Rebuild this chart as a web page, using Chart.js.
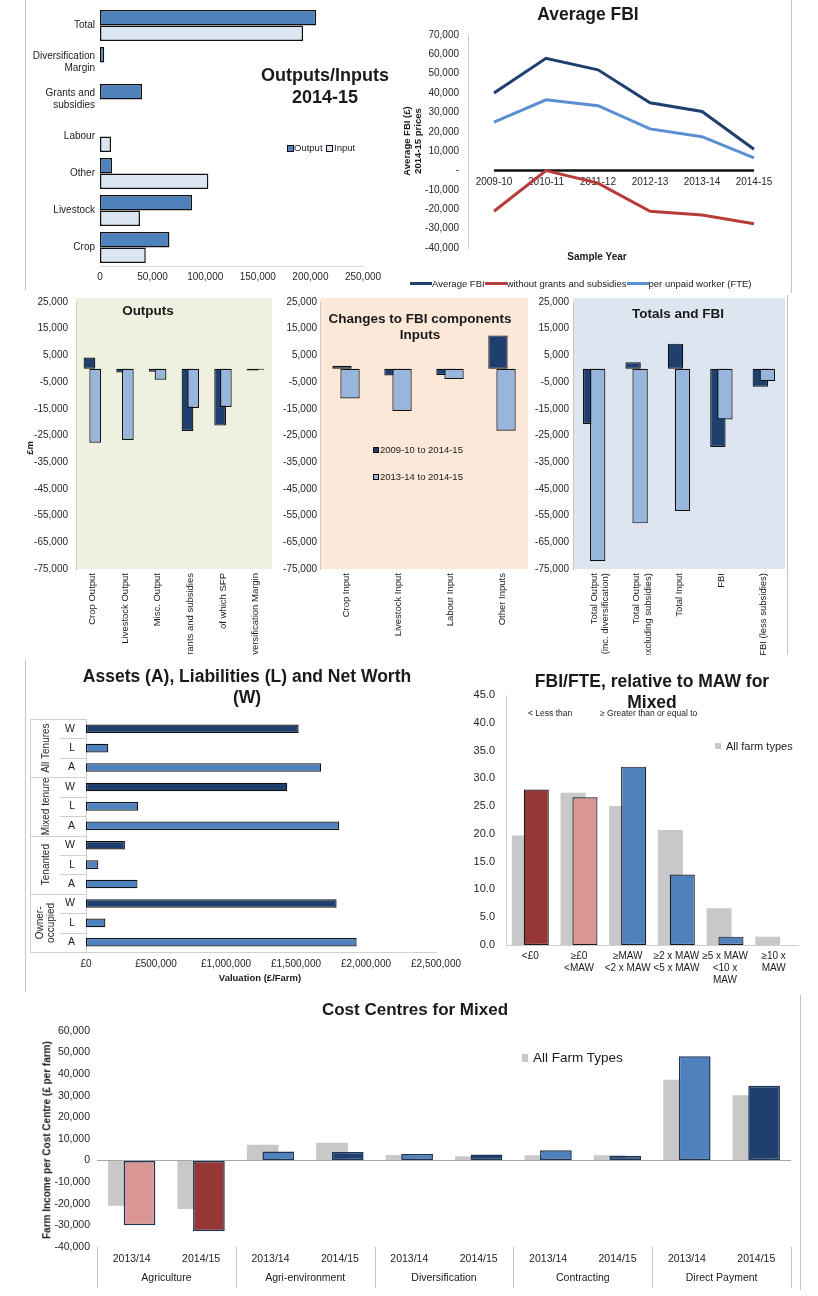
<!DOCTYPE html>
<html>
<head>
<meta charset="utf-8">
<script src="https://cdn.jsdelivr.net/npm/chart.js@4.4.1/dist/chart.umd.min.js"></script>
<style>
  html, body { margin: 0; padding: 0; background: #fff; }
  #page { position: relative; width: 818px; height: 1296px; overflow: hidden; font-family: 'Liberation Sans', Arial, sans-serif; }
  canvas { position: absolute; }
  .txt { position: absolute; white-space: nowrap; color: #1a1a1a; line-height: 1.15; text-align: center; z-index: 2; }
  .sw { position: absolute; z-index: 2; box-sizing: border-box; }
  .rule { position: absolute; background: #c4c4c4; z-index: 1; }
  .legrow { position: absolute; display: flex; align-items: center; white-space: nowrap; color: #1a1a1a; z-index: 2; }
</style>
</head>
<body>
<div id="page"></div>
<script>
// ------------------------------------------------------------
// DATA
// ------------------------------------------------------------

// Outputs/Inputs 2014-15 (£ per farm)
var ioCategories = ['Total', ['Diversification', 'Margin'], ['Grants and', 'subsidies'], 'Labour', 'Other', 'Livestock', 'Crop']
var ioSeries = ['Output', 'Input']
var ioOutput = [205500, 4000, 40000, null, 11500, 87500, 66000]
var ioInput = [193000, null, null, 10500, 103000, 38000, 43500]

// Average FBI (2014-15 prices)
var fbiYears = ['2009-10', '2010-11', '2011-12', '2012-13', '2013-14', '2014-15']
var fbiSeries = ['Average FBI', 'without grants and subsidies', 'per unpaid worker (FTE)']
var fbiAverage = [40000, 58000, 52000, 35000, 30500, 11000]
var fbiNoGrants = [-21000, 0, -6500, -21000, -23000, -27500]
var fbiPerWorker = [25000, 36500, 33500, 21500, 17500, 6500]

// Changes to FBI components (£m)
var changeSeries = ['2009-10 to 2014-15', '2013-14 to 2014-15']
var outCategories = ['Crop Output', 'Livestock Output', 'Misc. Output', 'Grants and subsidies', 'of which SFP', 'Diversification Margin']
var outLong = [4200, -1400, -1100, -23300, -21300, -700]
var outShort = [-27700, -26700, -4100, -14700, -14300, -400]
var inCategories = ['Crop Input', 'Livestock Input', 'Labour Input', 'Other Inputs']
var inLong = [1100, -2500, -2300, 12500]
var inShort = [-11100, -15800, -3800, -23200]
var totCategories = [['Total Output', '(inc. diversification)'], ['Total Output', '(excluding subsidies)'], 'Total Input', 'FBI', 'FBI (less subsidies)']
var totLong = [-20700, 2400, 9400, -29300, -6700]
var totShort = [-72100, -57900, -53300, -19000, -4700]

// Assets (A), Liabilities (L) and Net Worth (W), £ per farm
var tenureGroups = [['All Tenures'], ['Mixed tenure'], ['Tenanted'], ['Owner-', 'occupied']]
var balanceItems = ['W', 'L', 'A']
var balanceValues = [1519000, 159000, 1679000, 1437000, 373000, 1809000, 278000, 88000, 368000, 1790000, 138000, 1933000]

// FBI/FTE relative to MAW (% of farms)
var mawBands = [['<£0'], ['≥£0', '<MAW'], ['≥MAW', '<2 x MAW'], ['≥2 x MAW', '<5 x MAW'], ['≥5 x MAW', '<10 x', 'MAW'], ['≥10 x', 'MAW']]
var mawSeries = ['All farm types', 'Mixed']
var mawAllTypes = [19.7, 27.4, 25.0, 20.7, 6.6, 1.5]
var mawMixed = [28.0, 26.6, 32.1, 12.7, 1.5, 0]

// Cost centres for Mixed (£ per farm)
var costCentres = ['Agriculture', 'Agri-environment', 'Diversification', 'Contracting', 'Direct Payment']
var costYears = ['2013/14', '2014/15']
var costSeries = ['All Farm Types', 'Mixed']
var costAllTypes = [-20900, -22400, 7300, 8300, 2600, 2000, 2500, 2500, 37400, 30200]
var costMixed = [-29900, -32700, 4200, 4000, 3100, 2800, 4800, 2300, 48300, 34600]

// ------------------------------------------------------------
// STYLE
// ------------------------------------------------------------
var font = "'Liberation Sans', Arial, sans-serif"
var navy = '#1f3f6f'
var blue = '#4f81bd'
var paleBlue = '#98b6dc'
var ice = '#dce6f2'
var darkRed = '#953735'
var pink = '#d99694'
var grey = '#c8c8c8'
var edge = '#111'

Chart.defaults.font.family = font
Chart.defaults.color = '#262626'
Chart.defaults.animation = false
Chart.defaults.responsive = false
Chart.defaults.events = []
Chart.defaults.plugins.legend.display = false
Chart.defaults.plugins.tooltip.enabled = false

var page = document.getElementById('page')

function makeCanvas(left, top, w, h) {
    var c = document.createElement('canvas')
    c.width = w
    c.height = h
    c.style.left = left + 'px'
    c.style.top = top + 'px'
    c.style.width = w + 'px'
    c.style.height = h + 'px'
    page.appendChild(c)
    return c
}

// text in HTML, centred on (x, y) unless align = left
function addText(html, x, y, size, opts) {
    opts = opts || {}
    var d = document.createElement('div')
    d.className = 'txt'
    d.innerHTML = html
    d.style.left = x + 'px'
    d.style.top = y + 'px'
    d.style.fontSize = size + 'px'
    if (opts.bold) d.style.fontWeight = 'bold'
    if (opts.lh) d.style.lineHeight = opts.lh + 'px'
    var t = 'translate(' + (opts.align == 'left' ? '0' : '-50%') + ',-50%)'
    if (opts.rotate) t += ' rotate(' + opts.rotate + 'deg)'
    d.style.transform = t
    page.appendChild(d)
}

function addSwatch(x, y, w, h, color, border) {
    var d = document.createElement('div')
    d.className = 'sw'
    d.style.left = x + 'px'
    d.style.top = (y - h / 2) + 'px'
    d.style.width = w + 'px'
    d.style.height = h + 'px'
    d.style.background = color
    if (border) d.style.border = '1px solid ' + border
    page.appendChild(d)
}

function addRule(x, y, w, h) {
    var d = document.createElement('div')
    d.className = 'rule'
    d.style.left = x + 'px'
    d.style.top = y + 'px'
    d.style.width = w + 'px'
    d.style.height = h + 'px'
    page.appendChild(d)
}

// fix axis boxes so the plot areas land where they are in the picture
function fixWidth(w) {
    return function (s) { s.width = w; s.paddingTop = 0; s.paddingBottom = 0 }
}
function fixHeight(h) {
    return function (s) { s.height = h; s.paddingLeft = 0; s.paddingRight = 0 }
}

function zeroOnly(color) {
    return function (ctx) { return ctx.tick && ctx.tick.value === 0 ? color : 'rgba(0,0,0,0)' }
}

// plot-area background
function areaFill(color) {
    return {
        id: 'areaFill',
        beforeDraw: function (chart) {
            var a = chart.chartArea
            chart.ctx.save()
            chart.ctx.fillStyle = color
            chart.ctx.fillRect(a.left, a.top - 4, a.right - a.left, a.bottom - a.top + 4)
            chart.ctx.restore()
        }
    }
}

// overlapping bars: first dataset sits behind the second one
var backToFront = {
    id: 'backToFront',
    beforeDatasetsDraw: function (chart) {
        chart.data.datasets.forEach(function (ds, i) {
            var meta = chart.getDatasetMeta(i)
            if (!meta.hidden) meta.controller.draw()
        })
        return false
    }
}

var thousands = function (v) { return v.toLocaleString('en-GB') }

// ------------------------------------------------------------
// 1. OUTPUTS / INPUTS 2014-15
// ------------------------------------------------------------
new Chart(makeCanvas(0, 0, 400, 290), {
    type: 'bar',
    data: {
        labels: ioCategories,
        datasets: [
            { label: ioSeries[0], data: ioOutput, backgroundColor: blue, borderColor: edge, borderWidth: 1.5, borderSkipped: false, categoryPercentage: 0.84, barPercentage: 1 },
            { label: ioSeries[1], data: ioInput, backgroundColor: ice, borderColor: edge, borderWidth: 1.5, borderSkipped: false, categoryPercentage: 0.84, barPercentage: 1 }
        ]
    },
    options: {
        indexAxis: 'y',
        layout: { padding: { left: 0, top: 7, right: 37, bottom: 0 } },
        scales: {
            x: {
                min: 0, max: 250000,
                ticks: { stepSize: 50000, font: { size: 10 }, padding: 5, callback: thousands },
                grid: { display: false, drawTicks: false },
                border: { color: '#d9d9d9' },
                afterFit: fixHeight(24)
            },
            y: {
                ticks: { font: { size: 10 }, padding: 5, color: '#1a1a1a' },
                grid: { display: false, drawTicks: false },
                border: { display: false },
                afterFit: fixWidth(100)
            }
        }
    }
})
addText('Outputs/Inputs<br>2014-15', 325, 86, 18, { bold: true, lh: 22 })
addSwatch(287, 148, 7, 7, blue, edge)
addText(ioSeries[0], 294, 148, 9.5, { align: 'left' })
addSwatch(326, 148, 7, 7, ice, edge)
addText(ioSeries[1], 334, 148, 9.5, { align: 'left' })

// ------------------------------------------------------------
// 2. AVERAGE FBI
// ------------------------------------------------------------
var fbiColors = [navy, '#b83c39', '#5b8fd2']
var zeroLine = {
    id: 'zeroLine',
    beforeDatasetsDraw: function (chart) {
        var x = chart.scales.x, y = chart.scales.y, ctx = chart.ctx
        var y0 = y.getPixelForValue(0)
        ctx.save()
        ctx.strokeStyle = '#111'
        ctx.lineWidth = 2.5
        ctx.beginPath()
        ctx.moveTo(x.getPixelForValue(0), y0)
        ctx.lineTo(x.getPixelForValue(fbiYears.length - 1), y0)
        ctx.stroke()
        ctx.restore()
    }
}
var fbiChart = new Chart(makeCanvas(400, 0, 392, 295), {
    type: 'line',
    data: {
        labels: fbiYears,
        datasets: [fbiAverage, fbiNoGrants, fbiPerWorker].map(function (d, i) {
            return { label: fbiSeries[i], data: d, borderColor: fbiColors[i], backgroundColor: fbiColors[i], borderWidth: 3, pointRadius: 0, tension: 0 }
        })
    },
    options: {
        layout: { padding: { left: 0, top: 35, right: 12, bottom: 47 } },
        scales: {
            x: {
                position: { y: 0 },
                offset: true,
                ticks: { font: { size: 10 }, padding: 6, maxRotation: 0 },
                grid: { display: false, drawTicks: false },
                border: { display: false }
            },
            y: {
                min: -40000, max: 70000,
                ticks: { stepSize: 10000, font: { size: 10 }, padding: 9, callback: function (v) { return v === 0 ? '-' : thousands(v) } },
                grid: { display: false, drawTicks: false },
                border: { color: '#c8c8c8' },
                afterFit: fixWidth(68)
            }
        }
    },
    plugins: [zeroLine]
})
addText('Average FBI', 588, 14, 17.5, { bold: true })
addText('Average FBI (£)<br>2014-15 prices', 412, 141, 9.5, { bold: true, rotate: -90, lh: 11 })
addText('Sample Year', 597, 257, 10, { bold: true })

// legend row built from the chart's own datasets
var fbiLegend = document.createElement('div')
fbiLegend.className = 'legrow'
fbiLegend.style.left = '410px'
fbiLegend.style.top = '276px'
fbiLegend.style.height = '14px'
fbiLegend.style.fontSize = '9.5px'
fbiChart.data.datasets.forEach(function (ds) {
    var s = document.createElement('span')
    s.style.cssText = 'display:inline-block;width:22px;height:3px;background:' + ds.borderColor
    var t = document.createElement('span')
    t.textContent = ds.label
    fbiLegend.appendChild(s)
    fbiLegend.appendChild(t)
})
page.appendChild(fbiLegend)

// ------------------------------------------------------------
// 3. CHANGES TO FBI COMPONENTS (three panels)
// ------------------------------------------------------------
function changeChart(left, width, yWidth, rightPad, tickPad, labels, longData, shortData, bg, catPct, barPct) {
    return new Chart(makeCanvas(left, 295, width, 360), {
        type: 'bar',
        data: {
            labels: labels,
            datasets: [
                { label: changeSeries[0], data: longData, backgroundColor: navy, borderColor: edge, borderWidth: 1.2, borderSkipped: false, categoryPercentage: catPct, barPercentage: barPct },
                { label: changeSeries[1], data: shortData, backgroundColor: paleBlue, borderColor: edge, borderWidth: 1.2, borderSkipped: false, categoryPercentage: catPct, barPercentage: barPct }
            ]
        },
        options: {
            layout: { padding: { left: 0, top: 7, right: rightPad, bottom: 0 } },
            scales: {
                x: {
                    ticks: { font: { size: 9.5 }, padding: 4, minRotation: 90, maxRotation: 90, autoSkip: false, color: '#1a1a1a' },
                    grid: { display: false, drawTicks: false },
                    border: { display: false },
                    afterFit: fixHeight(86)
                },
                y: {
                    min: -75000, max: 25000,
                    ticks: { stepSize: 10000, font: { size: 10 }, padding: tickPad, callback: thousands },
                    grid: { color: zeroOnly('#a6a6a6'), drawTicks: false },
                    border: { color: '#c8c8c8' },
                    afterFit: fixWidth(yWidth)
                }
            }
        },
        plugins: [areaFill(bg), backToFront]
    })
}
changeChart(0, 278, 76, 6, 8, outCategories, outLong, outShort, '#eef1df', 0.35, 2.05)
changeChart(278, 257, 42, 7, 3, inCategories, inLong, inShort, '#fbe8d8', 0.31, 2.4)
changeChart(535, 257, 38, 7, 4, totCategories, totLong, totShort, '#dde6f0', 0.33, 2.2)

addText('Outputs', 148, 311, 13.5, { bold: true })
addText('£m', 30, 448, 9.5, { bold: true, rotate: -90 })
addText('Changes to FBI components<br>Inputs', 420, 327, 13.5, { bold: true, lh: 16 })
addText('Totals and FBI', 678, 314, 13.5, { bold: true })
addSwatch(373, 450, 6, 6, navy, edge)
addText(changeSeries[0], 380, 450, 9.5, { align: 'left' })
addSwatch(373, 477, 6, 6, paleBlue, edge)
addText(changeSeries[1], 380, 477, 9.5, { align: 'left' })

// ------------------------------------------------------------
// 4. ASSETS, LIABILITIES AND NET WORTH
// ------------------------------------------------------------
var balanceLabels = tenureGroups.flatMap(function () { return balanceItems })
var tenureLabels = {
    id: 'tenureLabels',
    afterDraw: function (chart) {
        var ctx = chart.ctx, y = chart.scales.y, a = chart.chartArea
        var rows = balanceItems.length
        var n = balanceLabels.length
        var edgeAt = function (i) {
            if (i <= 0) return a.top
            if (i >= n) return a.bottom
            return (y.getPixelForValue(i - 1) + y.getPixelForValue(i)) / 2
        }
        ctx.save()
        ctx.strokeStyle = '#d0d0d0'
        ctx.lineWidth = 1
        for (var i = 0; i <= n; i++) {
            var yy = Math.round(edgeAt(i)) + 0.5
            ctx.beginPath()
            ctx.moveTo(i % rows === 0 ? 30 : 60, yy)
            ctx.lineTo(a.left, yy)
            ctx.stroke()
        }
        ctx.beginPath()
        ctx.moveTo(30.5, a.top)
        ctx.lineTo(30.5, a.bottom)
        ctx.stroke()
        ctx.fillStyle = '#262626'
        ctx.font = '10px ' + font
        ctx.textAlign = 'center'
        ctx.textBaseline = 'middle'
        tenureGroups.forEach(function (g, k) {
            var cy = (edgeAt(k * rows) + edgeAt((k + 1) * rows)) / 2
            ctx.save()
            ctx.translate(46, cy)
            ctx.rotate(-Math.PI / 2)
            g.forEach(function (line, j) { ctx.fillText(line, 0, (j - (g.length - 1) / 2) * 11) })
            ctx.restore()
        })
        ctx.restore()
    }
}
new Chart(makeCanvas(0, 660, 465, 335), {
    type: 'bar',
    data: {
        labels: balanceLabels,
        datasets: [{
            label: 'Valuation',
            data: balanceValues,
            backgroundColor: balanceLabels.map(function (l) { return l == 'W' ? navy : blue }),
            borderColor: edge, borderWidth: 1.2, borderSkipped: false,
            categoryPercentage: 0.44, barPercentage: 1
        }]
    },
    options: {
        indexAxis: 'y',
        layout: { padding: { left: 0, top: 59, right: 29, bottom: 0 } },
        scales: {
            x: {
                min: 0, max: 2500000,
                ticks: { stepSize: 500000, font: { size: 10 }, padding: 6, callback: function (v) { return '£' + thousands(v) } },
                grid: { display: false, drawTicks: false },
                border: { color: '#d0d0d0' },
                afterFit: fixHeight(43)
            },
            y: {
                ticks: { font: { size: 10.5 }, padding: 11, autoSkip: false, color: '#1a1a1a' },
                grid: { display: false, drawTicks: false },
                border: { color: '#d0d0d0' },
                afterFit: fixWidth(86)
            }
        }
    },
    plugins: [tenureLabels]
})
addText('Assets (A), Liabilities (L) and Net Worth<br>(W)', 247, 687, 17.5, { bold: true, lh: 21 })
addText('Valuation (£/Farm)', 260, 978, 9.5, { bold: true })

// ------------------------------------------------------------
// 5. FBI/FTE RELATIVE TO MAW FOR MIXED
// ------------------------------------------------------------
var mawColors = [darkRed, pink, blue, blue, blue, blue]
new Chart(makeCanvas(465, 660, 353, 335), {
    type: 'bar',
    data: {
        labels: mawBands,
        datasets: [
            { label: mawSeries[0], data: mawAllTypes, backgroundColor: grey, borderWidth: 0, categoryPercentage: 0.49, barPercentage: 2.1 },
            { label: mawSeries[1], data: mawMixed, backgroundColor: mawColors, borderColor: '#1a1a1a', borderWidth: 1.2, borderSkipped: false, categoryPercentage: 0.49, barPercentage: 2.1 }
        ]
    },
    options: {
        layout: { padding: { left: 0, top: 35, right: 20, bottom: 0 } },
        scales: {
            x: {
                ticks: { font: { size: 10, lineHeight: 1.2 }, padding: 5, maxRotation: 0, autoSkip: false, color: '#1a1a1a' },
                grid: { display: false, drawTicks: false },
                border: { color: '#d0d0d0' },
                afterFit: fixHeight(50)
            },
            y: {
                min: 0, max: 45,
                ticks: { stepSize: 5, font: { size: 11 }, padding: 11, callback: function (v) { return v.toFixed(1) } },
                grid: { display: false, drawTicks: false },
                border: { color: '#d0d0d0' },
                afterFit: fixWidth(41)
            }
        }
    },
    plugins: [backToFront]
})
addText('FBI/FTE, relative to MAW for<br>Mixed', 652, 692, 17.5, { bold: true, lh: 21 })
addText('&lt; Less than', 528, 714, 8.5, { align: 'left' })
addText('≥ Greater than or equal to', 600, 714, 8.5, { align: 'left' })
addSwatch(715, 746, 6, 6, grey)
addText(mawSeries[0], 726, 746, 11, { align: 'left' })

// ------------------------------------------------------------
// 6. COST CENTRES FOR MIXED
// ------------------------------------------------------------
var costLabels = costCentres.flatMap(function () { return costYears })
var costColors = costMixed.map(function (v, i) {
    var second = i % costYears.length == 1
    if (v < 0) return second ? darkRed : pink
    return second ? navy : blue
})
var centreLabels = {
    id: 'centreLabels',
    afterDraw: function (chart) {
        var ctx = chart.ctx, x = chart.scales.x, a = chart.chartArea
        var n = costYears.length
        ctx.save()
        ctx.strokeStyle = '#c4c4c4'
        ctx.lineWidth = 1
        for (var k = 0; k <= costCentres.length; k++) {
            var xx = k === 0 ? a.left : k === costCentres.length ? a.right : (x.getPixelForValue(k * n - 1) + x.getPixelForValue(k * n)) / 2
            xx = Math.round(xx) + 0.5
            ctx.beginPath()
            ctx.moveTo(xx, a.bottom)
            ctx.lineTo(xx, chart.height - 8)
            ctx.stroke()
        }
        ctx.fillStyle = '#1a1a1a'
        ctx.font = '10.5px ' + font
        ctx.textAlign = 'center'
        ctx.textBaseline = 'middle'
        costCentres.forEach(function (name, k) {
            var cx = (x.getPixelForValue(k * n) + x.getPixelForValue(k * n + n - 1)) / 2
            ctx.fillText(name, cx, a.bottom + 31)
        })
        ctx.restore()
    }
}
new Chart(makeCanvas(0, 995, 818, 301), {
    type: 'bar',
    data: {
        labels: costLabels,
        datasets: [
            { label: costSeries[0], data: costAllTypes, backgroundColor: grey, borderWidth: 0, categoryPercentage: 0.45, barPercentage: 2.03 },
            { label: costSeries[1], data: costMixed, backgroundColor: costColors, borderColor: '#1c3557', borderWidth: 1.5, borderSkipped: false, categoryPercentage: 0.45, barPercentage: 2.03 }
        ]
    },
    options: {
        layout: { padding: { left: 0, top: 36, right: 27, bottom: 0 } },
        scales: {
            x: {
                ticks: { font: { size: 10.5 }, padding: 6, maxRotation: 0, autoSkip: false, color: '#1a1a1a' },
                grid: { display: false, drawTicks: false },
                border: { display: false },
                afterFit: fixHeight(49)
            },
            y: {
                min: -40000, max: 60000,
                ticks: { stepSize: 10000, font: { size: 10.5 }, padding: 7, callback: thousands },
                grid: { color: zeroOnly('#a6a6a6'), drawTicks: false },
                border: { display: false },
                afterFit: fixWidth(97)
            }
        }
    },
    plugins: [backToFront, centreLabels]
})
addText('Cost Centres for Mixed', 415, 1010, 17, { bold: true })
addText('Farm Income per Cost Centre (£ per farm)', 47, 1140, 10, { bold: true, rotate: -90 })
addSwatch(522, 1058, 6, 8, grey)
addText(costSeries[0], 533, 1058, 13.5, { align: 'left' })

// frame lines
addRule(791, 0, 1, 293)
addRule(787, 295, 1, 360)
addRule(25, 0, 1, 290)
addRule(25, 660, 1, 332)
addRule(800, 995, 1, 295)
</script>
</body>
</html>
